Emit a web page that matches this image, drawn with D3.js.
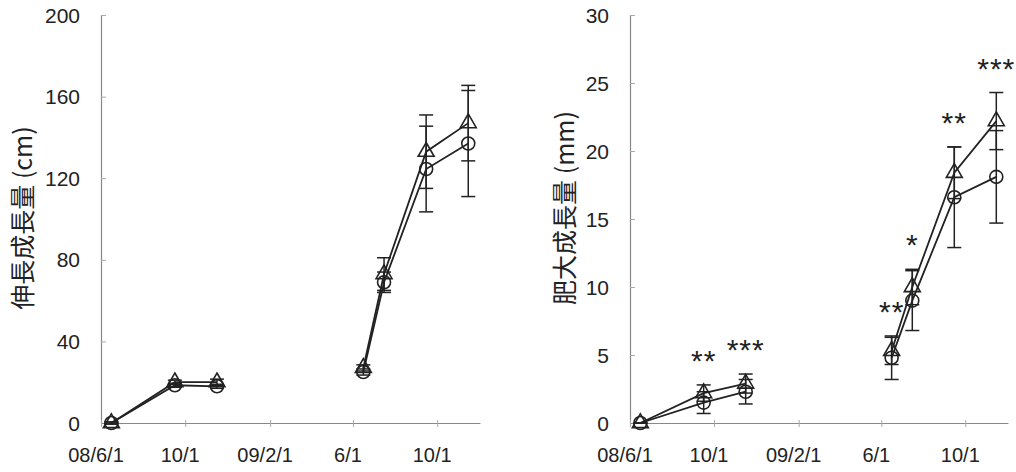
<!DOCTYPE html>
<html><head><meta charset="utf-8">
<script src="https://cdn.jsdelivr.net/npm/d3@7"></script>
<style>
body{margin:0;background:#fff;}
text{font-family:"Liberation Sans",Arial,sans-serif;fill:#222;}
.cjk{font-family:"Noto Sans CJK JP","Liberation Sans",sans-serif;}
</style></head>
<body><svg id="c" width="1016" height="472"></svg>
<script>
const sampleDates = ["2008-06-16","2008-09-16","2008-11-16","2009-06-16","2009-07-16","2009-09-15","2009-11-15"];
const xTickDates = ["2008-06-01","2008-10-01","2009-02-01","2009-06-01","2009-10-01"];
const xTickLabels = ["08/6/1","10/1","09/2/1","6/1","10/1"];
const segments = [[0,1,2],[3,4,5,6]];

const heightCircle = [0, 18.5, 18, 25, 69, 124.5, 137];
const heightCircleErr = [0.5, 1, 1, 1.5, 5, 21, 26];
const heightTri = [0, 20, 20, 27, 73, 133, 147];
const heightTriErr = [0.5, 1, 1.5, 1.5, 8, 18, 18.5];
const heightTicks = [0, 40, 80, 120, 160, 200];

const diamCircle = [0, 1.5, 2.3, 4.8, 9.0, 16.6, 18.1];
const diamCircleErr = [0, 0.8, 0.9, 1.6, 2.2, 3.7, 3.4];
const diamTri = [0, 2.2, 2.9, 5.3, 10.0, 18.4, 22.2];
const diamTriErr = [0, 0.6, 0.7, 1.0, 1.3, 1.9, 2.1];
const diamTicks = [0, 5, 10, 15, 20, 25, 30];
const diamStars = ["", "**", "***", "**", "*", "**", "***"];

const parse = d3.timeParse("%Y-%m-%d");
const svg = d3.select("#c");

function panel(opt){
  const g = svg.append("g");
  const x = d3.scaleTime().domain([parse("2008-06-01"), parse("2009-12-02")]).range([opt.x0, opt.x1]);
  const y = d3.scaleLinear().domain([0, opt.ymax]).range([423, 15]);
  const ya = g.append("g").attr("transform",`translate(${opt.x0},0)`)
    .call(d3.axisRight(y).tickValues(opt.ticks).tickSize(5).tickFormat(""));
  ya.select(".domain").attr("stroke","#888").attr("stroke-width",1.2);
  ya.selectAll(".tick line").attr("stroke","#aaa");
  opt.ticks.forEach(t=>{
    g.append("text").attr("x",opt.x0-21).attr("y",y(t)).attr("dy","0.36em")
     .attr("text-anchor","end").style("font-size","21px").text(t);
  });
  const xa = g.append("g").attr("transform","translate(0,423)")
    .call(d3.axisBottom(x).tickValues(xTickDates.map(parse)).tickSizeInner(4).tickSizeOuter(0).tickFormat(""));
  xa.select(".domain").attr("stroke","#888").attr("stroke-width",1.2);
  xa.selectAll(".tick line").attr("stroke","#aaa").attr("y1",-3);
  xTickDates.forEach((d,i)=>{
    g.append("text").attr("x",x(parse(d))-5).attr("y",462).attr("text-anchor","middle")
     .style("font-size","20px").text(xTickLabels[i]);
  });
  g.append("text").attr("class","cjk").attr("transform",`translate(${opt.lx},${opt.ly}) rotate(-90)`)
   .attr("text-anchor","middle").attr("dy","0.35em").style("font-size","25px").text(opt.label);

  const series = [
    {v:opt.circ, e:opt.circErr, shape:"circle"},
    {v:opt.tri, e:opt.triErr, shape:"tri"}
  ];
  series.forEach(s=>{
    sampleDates.forEach((d,i)=>{
      const cx = x(parse(d));
      const top = y(s.v[i]+s.e[i]), bot = y(s.v[i]-s.e[i]);
      g.append("line").attr("x1",cx).attr("x2",cx).attr("y1",top).attr("y2",bot).attr("stroke","#222").attr("stroke-width",1.5);
      [top,bot].forEach(yy=>g.append("line").attr("x1",cx-7).attr("x2",cx+7).attr("y1",yy).attr("y2",yy).attr("stroke","#222").attr("stroke-width",1.5));
    });
  });
  const line = d3.line().x(d=>x(parse(d[0]))).y(d=>y(d[1]));
  series.forEach(s=>{
    segments.forEach(seg=>{
      g.append("path").attr("d", line(seg.map(i=>[sampleDates[i], s.v[i]])))
       .attr("fill","none").attr("stroke","#222").attr("stroke-width",1.8);
    });
  });
  series.forEach(s=>{
    sampleDates.forEach((d,i)=>{
      const cx = x(parse(d)), cy = y(s.v[i]);
      if(s.shape==="circle"){
        g.append("circle").attr("cx",cx).attr("cy",cy).attr("r",6.5).attr("fill","none").attr("stroke","#222").attr("stroke-width",1.6);
      } else {
        g.append("path").attr("d", d3.symbol(d3.symbolTriangle, 110)()).attr("transform",`translate(${cx},${cy})`)
         .attr("fill","none").attr("stroke","#222").attr("stroke-width",1.6);
      }
    });
  });
  if(opt.stars){
    opt.stars.forEach((s,i)=>{
      if(!s) return;
      const cx = x(parse(sampleDates[i]));
      const top = y(Math.max(opt.tri[i]+opt.triErr[i], opt.circ[i]+opt.circErr[i]));
      g.append("text").attr("x",cx).attr("y",top-14).attr("text-anchor","middle")
       .style("font-size","30px").style("letter-spacing","1px").text(s);
    });
  }
}

panel({x0:101, x1:480, ymax:200, ticks:heightTicks, label:"伸長成長量 (cm)", lx:23, ly:218,
  circ:heightCircle, circErr:heightCircleErr, tri:heightTri, triErr:heightTriErr});
panel({x0:630, x1:1008, ymax:30, ticks:diamTicks, label:"肥大成長量 (mm)", lx:565, ly:208,
  circ:diamCircle, circErr:diamCircleErr, tri:diamTri, triErr:diamTriErr, stars:diamStars});
</script></body></html>
